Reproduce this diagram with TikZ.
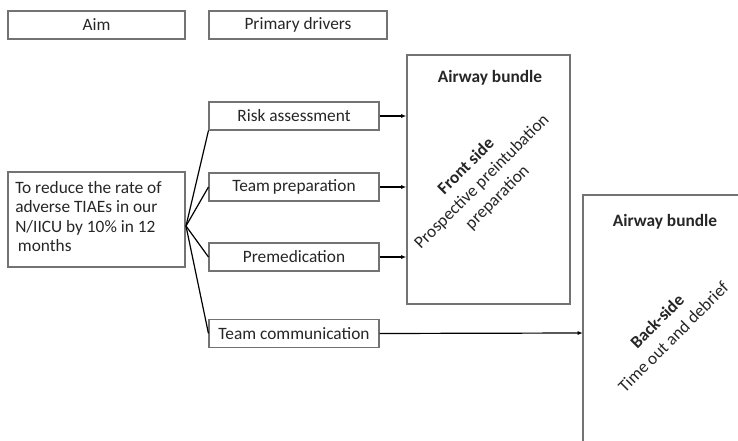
\documentclass[tikz,border=0pt]{standalone}
\usepackage{fontspec}
\setmainfont{Carlito}
\usetikzlibrary{arrows.meta}
\begin{document}
\begin{tikzpicture}[x=0.75pt,y=-0.75pt,
  box/.style={draw=black!55,line width=0.8pt,rectangle,inner sep=0pt},
  lbl/.style={font=\fontsize{13}{15}\selectfont,text=black!85},
  con/.style={black,line width=0.9pt},
  arr/.style={con,-{Latex[length=4pt,width=3pt]}}]
\useasboundingbox (0,0) rectangle (738,441);
\begin{scope}
\clip (0,0) rectangle (738,441);
% header boxes
\draw[box] (8,11) rectangle (185,39);
\node[lbl] (aimh) at (96.5,25) {Aim};
\draw[box] (209,11) rectangle (387,39);
\node[lbl] (pdh) at (298,25) {Primary drivers};
% driver boxes
\node[box,minimum width=170*0.75pt,minimum height=28*0.75pt,lbl] (ra) at (294,116) {Risk assessment};
\node[box,minimum width=170*0.75pt,minimum height=28*0.75pt,lbl] (tp) at (294,187) {Team\,preparation};
\node[box,minimum width=170*0.75pt,minimum height=28*0.75pt,lbl] (pm) at (294,257) {Premedication};
\node[box,minimum width=170*0.75pt,minimum height=28*0.75pt,lbl] (tc) at (294,333.5) {Team communication};
% aim box
\node[box,minimum width=177*0.75pt,minimum height=95*0.75pt] (aim) at (96.5,219.5) {};
\node[lbl,align=left,anchor=base west,font=\fontsize{13}{14.6}\selectfont,inner sep=0pt] (aimt) at (15,251.5) {To reduce the rate of\\adverse TIAEs in our\\N/IICU by 10\% in 12\\\hspace{2pt}months};
\coordinate (j) at (186,226);
\draw[con] (j) -- (ra.south west);
\draw[con] (j) -- (tp.west);
\draw[con] (j) -- (pm.west);
\draw[con] (j) -- (tc.west);
% bundle boxes
\node[box,minimum width=163*0.75pt,minimum height=249*0.75pt] (front) at (488.5,179.5) {};
\draw[box] (583,450) -- (583,195) -- (745,195);
\coordinate (backw) at (583,333);
\node[lbl,font=\bfseries\fontsize{13}{15}\selectfont] (fb) at (490,78) {Airway bundle};
\node[lbl,font=\bfseries\fontsize{13}{15}\selectfont] (bb) at (665,222) {Airway bundle};
\node[lbl,rotate=45,align=center,font=\fontsize{13}{16.5}\selectfont] (ft) at (482,182) {\textbf{Front side}\\Prospective preintubation\\preparation};
\node[lbl,rotate=45,align=center,font=\fontsize{13}{17}\selectfont] (bt) at (665,329) {\textbf{Back-side}\\Time out and debrief};
% arrows
\draw[arr] (ra.east) -- (ra.east -| front.west);
\draw[arr] (tp.east) -- (tp.east -| front.west);
\draw[arr] (pm.east) -- (pm.east -| front.west);
\draw[arr] (tc.east) -- (backw);
\end{scope}
\end{tikzpicture}
\end{document}
